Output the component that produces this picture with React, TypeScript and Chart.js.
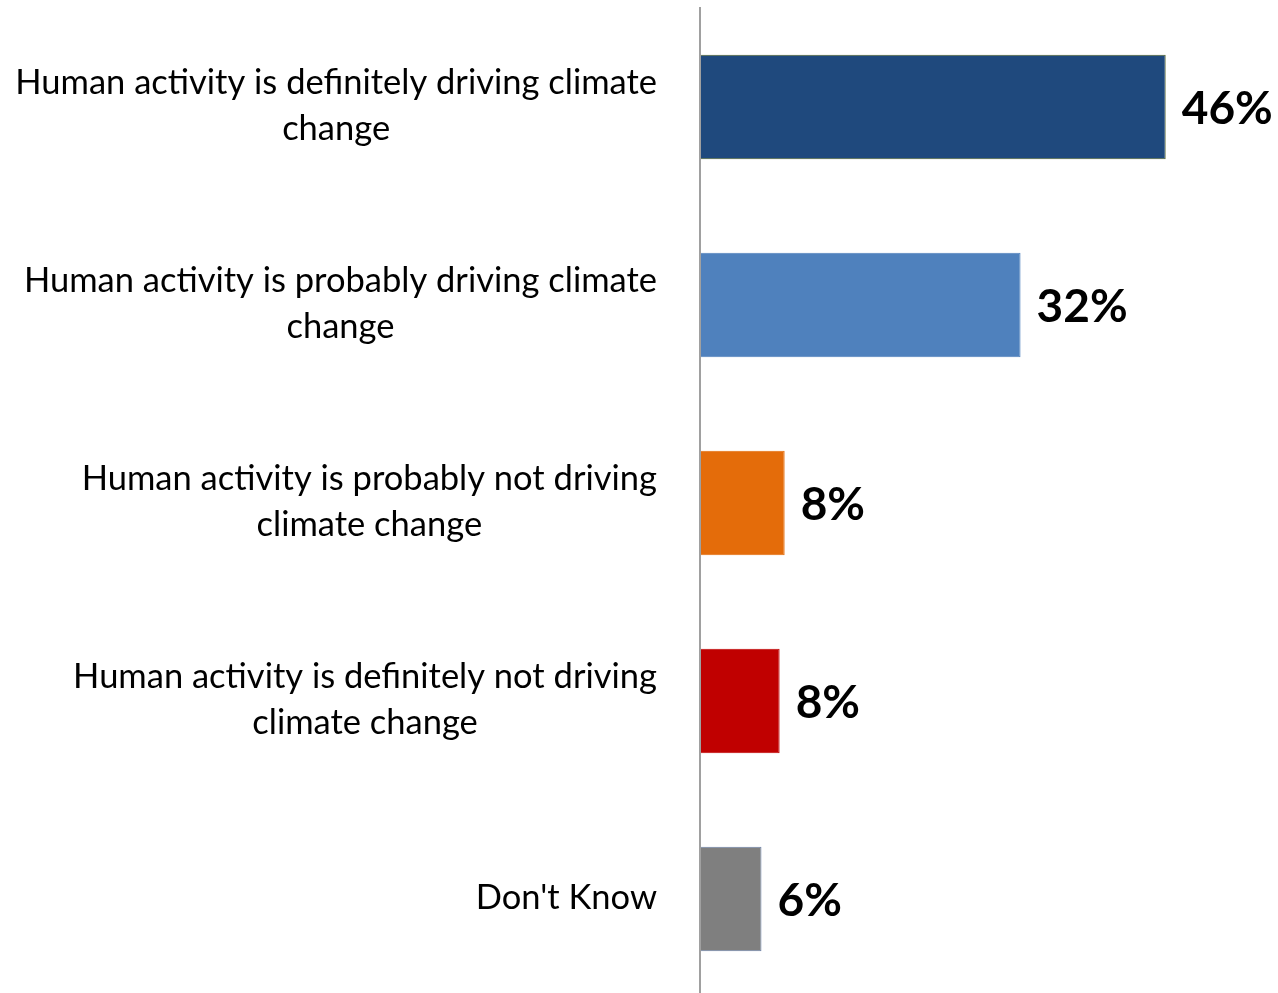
import React, { useEffect, useRef } from "react";
import { Chart, registerables } from "chart.js";

Chart.register(...registerables);

const categories: string[][] = [
  ["Human activity is definitely driving climate", "change"],
  ["Human activity is probably driving climate", "change"],
  ["Human activity is probably not driving", "climate change"],
  ["Human activity is definitely not driving", "climate change"],
  ["Don't Know"],
];
const values: number[] = [46.2, 31.8, 8.4, 7.9, 6.1];
const barColors: string[] = ["#1F497D", "#4F81BD", "#E46C0A", "#C00000", "#7F7F7F"];
const borderColors: string[] = ["#4F6228", "#4F81BD", "#E46C0A", "#C00000", "#6A80A8"];

const FONT = "Lato, 'Open Sans', sans-serif";

const labelsPlugin = {
  id: "customLabels",
  afterDraw(chart: any) {
    const ctx = chart.ctx;
    const yScale = chart.scales.y;
    const xScale = chart.scales.x;
    ctx.save();
    // category labels
    ctx.font = `34.5px ${FONT}`;
    ctx.fillStyle = "#000";
    ctx.textAlign = "center";
    ctx.textBaseline = "middle";
    const rightEdge = chart.chartArea.left - 43;
    const lineH = 46;
    categories.forEach((lines, i) => {
      const yc = yScale.getPixelForValue(i) - 1;
      const maxW = Math.max(...lines.map((l) => ctx.measureText(l).width));
      const cx = rightEdge - maxW / 2;
      const y0 = yc - ((lines.length - 1) * lineH) / 2;
      lines.forEach((l, j) => ctx.fillText(l, cx, y0 + j * lineH));
    });
    // value labels
    ctx.font = `bold 46px ${FONT}`;
    ctx.textAlign = "left";
    values.forEach((v, i) => {
      const x = xScale.getPixelForValue(v) + 16;
      const y = yScale.getPixelForValue(i) + 2;
      ctx.fillText(`${Math.round(v)}%`, x, y);
    });
    ctx.restore();
  },
};

export default function App() {
  const ref = useRef<HTMLCanvasElement>(null);
  useEffect(() => {
    if (!ref.current) return;
    const chart = new Chart(ref.current, {
      type: "bar",
      data: {
        labels: categories.map((c) => c.join(" ")),
        datasets: [
          {
            data: values,
            backgroundColor: barColors,
            borderColor: borderColors,
            borderWidth: 1,
            barPercentage: 0.528,
            categoryPercentage: 1,
          },
        ],
      },
      options: {
        indexAxis: "y",
        animation: false,
        responsive: false,
        devicePixelRatio: 1,
        layout: { padding: { left: 700, right: 74, top: 8, bottom: 0 } },
        plugins: { legend: { display: false }, tooltip: { enabled: false } },
        scales: {
          x: { display: false, min: 0, max: 50 },
          y: {
            display: true,
            ticks: { display: false },
            grid: { drawOnChartArea: false, drawTicks: false },
            border: { display: true, color: "#A0A0A0", width: 2, z: 1 },
          },
        },
      },
      plugins: [labelsPlugin],
    });
    return () => chart.destroy();
  }, []);
  return (
    <div style={{ position: "fixed", left: 0, top: 0, width: 1278, height: 998, background: "#fff" }}>
      <canvas ref={ref} width={1278} height={998} style={{ display: "block" }} />
    </div>
  );
}
